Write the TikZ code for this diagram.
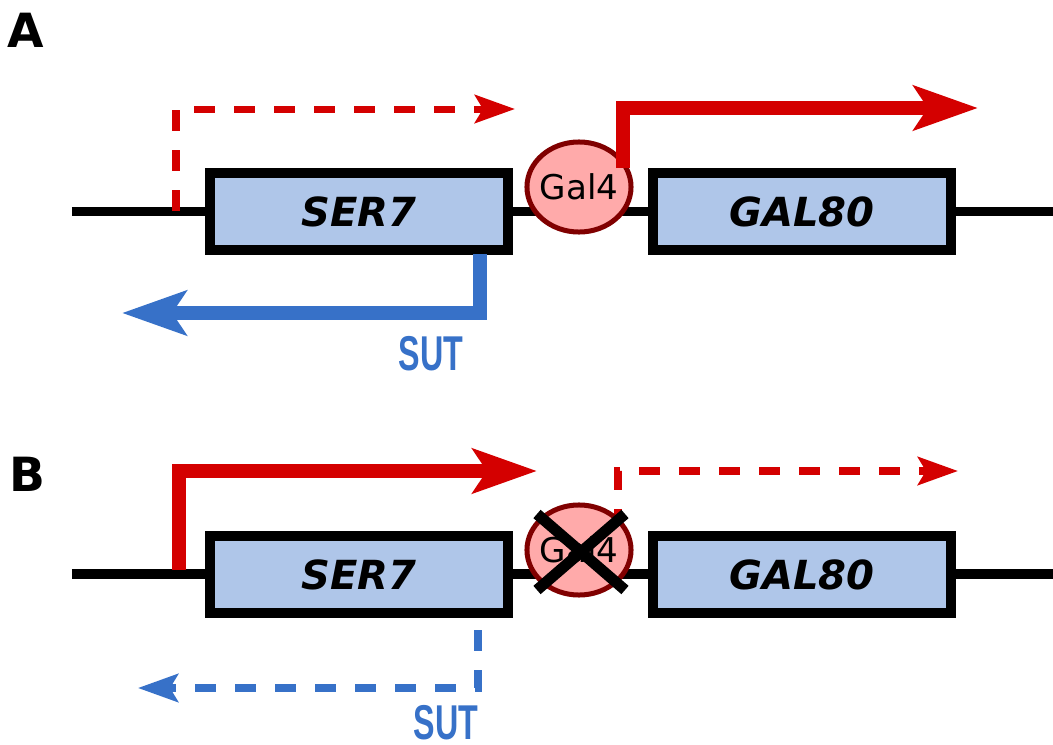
\documentclass[tikz,border=0pt]{standalone}
\usepackage{fontspec}
\setmainfont{DejaVu Sans}
\newfontfamily\sutfont[FakeStretch=0.66]{Liberation Sans}
\usetikzlibrary{arrows.meta, positioning, backgrounds, shapes.geometric}
\definecolor{genefill}{HTML}{AFC6E9}
\definecolor{tffill}{HTML}{FFAAAA}
\definecolor{tfdraw}{HTML}{800000}
\definecolor{txred}{HTML}{D40000}
\definecolor{txblue}{HTML}{3771C8}

\begin{document}
\begin{tikzpicture}[
    x=0.01cm, y=-0.01cm,
    gene/.style={draw, fill=genefill, line width=0.1cm, minimum width=2.98cm, minimum height=0.77cm,
                 inner sep=0pt, font=\fontsize{11.4}{13}\selectfont\bfseries\itshape},
    tf/.style={ellipse, draw=tfdraw, fill=tffill, line width=0.05cm,
               minimum width=1.04cm, minimum height=0.9cm, inner sep=-0.06cm,
               font=\fontsize{9.7}{11}\selectfont},
    backbone/.style={line width=0.09cm},
    strong/.style={line width=0.14cm, -{Stealth[length=0.64cm, width=0.44cm, inset=0.14cm]}},
    weak/.style={line width=0.07cm, dash pattern=on 0.21cm off 0.19cm,
                 -{Stealth[length=0.4cm, width=0.28cm, inset=0.08cm]}},
    sut/.style={font=\sutfont\bfseries\fontsize{13.9}{15}\selectfont, text=txblue, inner sep=0pt},
    panel/.style={font=\fontsize{13.4}{15}\selectfont\bfseries},
    cross/.style={line width=0.11cm},
]
    \useasboundingbox (0,0) rectangle (1053,745);

    % A: Gal4 bound
    \node[panel] (labelA) at (26,30) {A};
    \node[gene] (ser7A) at (359,211.5) {SER7};
    \node[gene] (gal80A) at (802,211.5) {GAL80};
    \node[tf] (gal4A) at (579,187) {Gal4};
    \coordinate (lineAstart) at (72,211);
    \coordinate (lineAend) at (1053,211);
    \begin{scope}[on background layer]
        \draw[backbone] (lineAstart) -- (lineAend);
    \end{scope}

    \coordinate (weakAstart) at (176,211);
    \coordinate (weakAtip) at (515,109);
    \coordinate (strongAstart) at (623,168);
    \coordinate (strongAtip) at (978,108);
    \coordinate (sutAstart) at (480,254);
    \coordinate (sutAtip) at (122,313);
    \draw[weak, txred] (weakAstart) |- (weakAtip);
    \draw[strong, txred] (strongAstart) |- (strongAtip);
    \draw[strong, txblue] (sutAstart) |- (sutAtip);
    \node[sut] (sutA) at (431,354) {SUT};

    % B: Gal4 removed
    \node[panel] (labelB) at (27,474) {B};
    \node[gene] (ser7B) at (359,574.5) {SER7};
    \node[gene] (gal80B) at (802,574.5) {GAL80};
    \node[tf] (gal4B) at (579,550) {Gal4};
    \coordinate (lineBstart) at (72,574);
    \coordinate (lineBend) at (1053,574);
    \coordinate (weakBstart) at (618,530);
    \coordinate (weakBtip) at (958,471);
    \begin{scope}[on background layer]
        \draw[backbone] (lineBstart) -- (lineBend);
        \draw[weak, txred] (weakBstart) |- (weakBtip);
    \end{scope}
    \draw[cross] ([shift={(-42,-36)}]gal4B.center) -- ([shift={(46,40)}]gal4B.center);
    \draw[cross] ([shift={(46,-36)}]gal4B.center) -- ([shift={(-42,40)}]gal4B.center);

    \coordinate (strongBstart) at (179,570);
    \coordinate (strongBtip) at (537,471);
    \coordinate (sutBstart) at (478,630);
    \coordinate (sutBtip) at (138,688);
    \draw[strong, txred] (strongBstart) |- (strongBtip);
    \draw[weak, txblue] (sutBstart) |- (sutBtip);
    \node[sut] (sutB) at (446,723) {SUT};
\end{tikzpicture}
\end{document}
